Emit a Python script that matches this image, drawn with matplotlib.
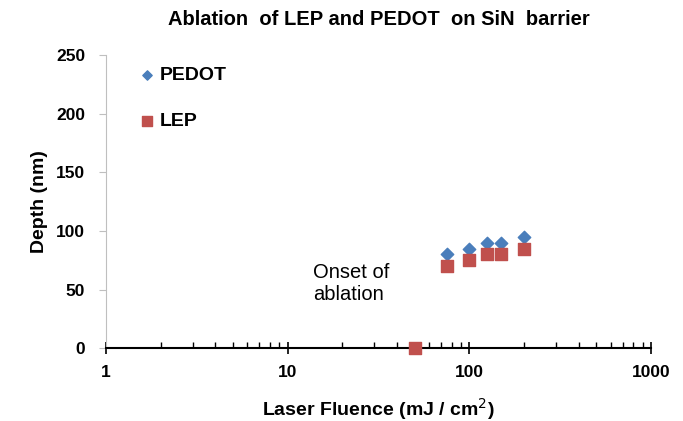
import numpy as np
import matplotlib.pyplot as plt
from matplotlib.ticker import LogLocator, FixedLocator, NullFormatter

plt.rcParams['font.family'] = ['Liberation Sans', 'DejaVu Sans']

# Ablation depth vs laser fluence
pedot_fluence = [75, 100, 125, 150, 200]
pedot_depth = [80, 85, 90, 90, 95]

lep_fluence = [50, 75, 100, 125, 150, 200]
lep_depth = [0, 70, 75, 80, 80, 85]

y_ticks = [0, 50, 100, 150, 200, 250]
x_ticks = [1, 10, 100, 1000]

fig = plt.figure(figsize=(6.83, 4.21), dpi=100)
ax = fig.add_axes([0.155, 0.173, 0.798, 0.696])

ax.scatter(pedot_fluence, pedot_depth, marker='D', s=40, color='#4a7ebb',
           label='PEDOT', zorder=3, clip_on=False)
ax.scatter(lep_fluence, lep_depth, marker='s', s=75, color='#c0504d',
           label='LEP', zorder=3, clip_on=False)

ax.set_xscale('log')
ax.set_xlim(1, 1000)
ax.set_ylim(0, 250)

ax.xaxis.set_major_locator(FixedLocator(x_ticks))
ax.set_xticklabels([str(t) for t in x_ticks], fontsize=12.5, fontweight='bold')
ax.xaxis.set_minor_locator(LogLocator(base=10, subs=np.arange(2, 10)))
ax.xaxis.set_minor_formatter(NullFormatter())
ax.set_yticks(y_ticks)
ax.set_yticklabels([str(t) for t in y_ticks], fontsize=12.5, fontweight='bold')

for side in ['top', 'right']:
    ax.spines[side].set_visible(False)
ax.spines['left'].set_color('#bfbfbf')
ax.spines['bottom'].set_color('black')
ax.spines['bottom'].set_linewidth(1.5)

ax.tick_params(axis='y', direction='out', length=5, color='#bfbfbf', pad=10)
ax.tick_params(axis='x', which='major', direction='inout', length=8, width=1.2, color='black', pad=8)
ax.tick_params(axis='x', which='minor', direction='in', length=4, width=1.0, color='black')

ax.set_title('Ablation  of LEP and PEDOT  on SiN  barrier', fontsize=14.5,
             fontweight='bold', pad=22)
ax.set_xlabel('Laser Fluence (mJ / cm$^2$)', fontsize=14, fontweight='bold', labelpad=12)
ax.set_ylabel('Depth (nm)', fontsize=14, fontweight='bold', labelpad=6)

ax.text(0.38, 0.222, 'Onset of\nablation', transform=ax.transAxes,
        fontsize=14.5, ha='left', va='center', linespacing=1.2)

ax.legend(loc='upper left', bbox_to_anchor=(0.008, 1.02), frameon=False,
          prop={'size': 14, 'weight': 'bold'}, handletextpad=-0.35,
          labelspacing=1.45, markerscale=0.75)

fig.savefig('out.png', dpi=100)
